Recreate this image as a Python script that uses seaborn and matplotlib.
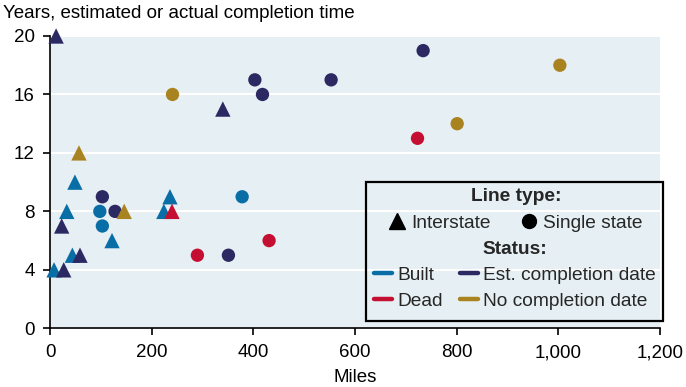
import matplotlib
matplotlib.use("Agg")
import matplotlib.pyplot as plt
import seaborn as sns
import pandas as pd
from matplotlib.lines import Line2D
from matplotlib.patches import Rectangle
from matplotlib.ticker import FuncFormatter

# ---- data ----
miles = [12, 340, 57, 49, 33, 23, 122, 44, 59, 8, 27, 146, 236, 224, 240,
         103, 98, 128, 103, 378, 290, 351, 431, 241, 403, 418, 553, 734, 1003, 801, 723]
years = [20, 15, 12, 10, 8, 7, 6, 5, 5, 4, 4, 8, 9, 8, 8,
         9, 8, 8, 7, 9, 5, 5, 6, 16, 17, 16, 17, 19, 18, 14, 13]
line_type = ["Interstate"] * 15 + ["Single state"] * 16
status = ["Est. completion date", "Est. completion date", "No completion date", "Built", "Built",
          "Est. completion date", "Built", "Built", "Est. completion date", "Built",
          "Est. completion date", "No completion date", "Built", "Built", "Dead",
          "Est. completion date", "Built", "Est. completion date", "Built", "Built",
          "Dead", "Est. completion date", "Dead", "No completion date", "Est. completion date",
          "Est. completion date", "Est. completion date", "Est. completion date",
          "No completion date", "No completion date", "Dead"]
status_order = ["Built", "Dead", "Est. completion date", "No completion date"]
type_order = ["Interstate", "Single state"]
x_ticks = [0, 200, 400, 600, 800, 1000, 1200]
y_ticks = [0, 4, 8, 12, 16, 20]

palette = {"Built": "#0a6ea6", "Dead": "#c50f32",
           "Est. completion date": "#2b2862", "No completion date": "#a9831f"}
markers = {"Interstate": "^", "Single state": "o"}
marker_area = {"Single state": 92, "Interstate": 122}

df = pd.DataFrame({"miles": miles, "years": years, "type": line_type, "status": status})

sns.set_theme(style="white")
plt.rcParams["font.family"] = ["Liberation Sans", "DejaVu Sans"]

fig = plt.figure(figsize=(6.86, 3.87), dpi=100)
ax = fig.add_axes([50 / 686, 1 - 328.3 / 387, 610 / 686, 292.3 / 387])
ax.set_facecolor("#e6eff3")

# circles first, then triangles on top
for t in ["Single state", "Interstate"]:
    sub = df[df["type"] == t]
    sns.scatterplot(data=sub, x="miles", y="years", hue="status",
                    hue_order=status_order, palette=palette,
                    marker=markers[t], s=marker_area[t], linewidth=0,
                    legend=False, ax=ax, zorder=3)
for coll in ax.collections:
    coll.set_clip_on(False)

ax.set_xlim(0, 1200)
ax.set_ylim(0, 20)
ax.set_xticks(x_ticks)
ax.set_yticks(y_ticks)
ax.xaxis.set_major_formatter(FuncFormatter(lambda v, p: f"{int(v):,}"))
ax.grid(axis="y", color="white", linewidth=1.5)
ax.set_axisbelow(True)
for s in ["top", "right"]:
    ax.spines[s].set_visible(False)
for s in ["left", "bottom"]:
    ax.spines[s].set_color("black")
    ax.spines[s].set_linewidth(1.2)
ax.tick_params(axis="both", direction="out", length=5, width=1.2, color="black",
               labelsize=13.5, labelcolor="black", bottom=True, left=True)
ax.tick_params(axis="x", pad=6.5)
ax.tick_params(axis="y", pad=6)
ax.set_xlabel("Miles", fontsize=13.5, color="black", labelpad=5.5)
ax.set_ylabel("")

fig.text(3 / 686, 1 - 14 / 387, "Years, estimated or actual completion time",
         fontsize=13.5, va="center", ha="left", color="black")

# ---- legends ----
h1 = [Line2D([], [], marker="^", color="black", linestyle="none", markersize=11),
      Line2D([], [], marker="o", color="black", linestyle="none", markersize=10)]
leg1 = fig.legend(h1, type_order, loc="upper center",
                  bbox_to_anchor=(516 / 686, 1 - 188 / 387), ncol=2, frameon=False,
                  title="Line type:", fontsize=13.8, handlelength=0.8, handletextpad=0.35,
                  columnspacing=1.6, borderpad=0, borderaxespad=0)
leg1.get_title().set_fontweight("bold")
leg1.get_title().set_fontsize(13.8)

h2 = [Line2D([], [], color=palette[k], linewidth=3.2) for k in status_order]
leg2 = fig.legend(h2, status_order, loc="upper center",
                  bbox_to_anchor=(515 / 686, 1 - 241 / 387), ncol=2, frameon=False,
                  title="Status:", fontsize=13.8, handlelength=0.95, handletextpad=0.3,
                  columnspacing=0.85, labelspacing=0.45, borderpad=0, borderaxespad=0)
leg2.get_title().set_fontweight("bold")
leg2.get_title().set_fontsize(13.8)

fig.patches.append(Rectangle((366 / 686, 1 - 321 / 387), (663 - 366) / 686, (321 - 181.5) / 387,
                             transform=fig.transFigure, fill=False, edgecolor="black",
                             linewidth=1.6, zorder=5))

fig.savefig("out.png", dpi=100)
